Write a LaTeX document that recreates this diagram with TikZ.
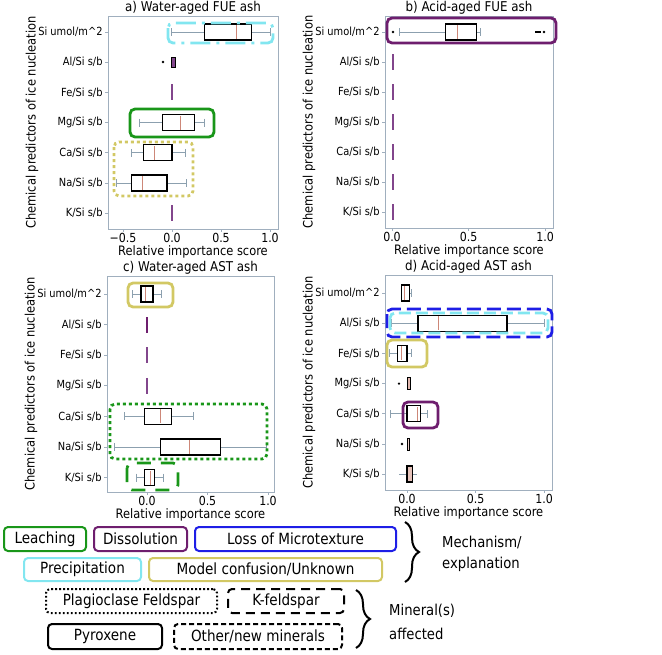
\documentclass[tikz,border=0pt]{standalone}
\usepackage{fontspec}
\setmainfont{DejaVu Sans}[FakeStretch=0.88]
\usetikzlibrary{decorations.pathreplacing}
\definecolor{hgreen}{RGB}{25,150,25}
\definecolor{hpurple}{RGB}{110,30,110}
\definecolor{hblue}{RGB}{30,30,230}
\definecolor{hcyan}{RGB}{130,230,240}
\definecolor{hyellow}{RGB}{210,200,100}
\definecolor{axgray}{RGB}{160,175,190}
\definecolor{whgray}{RGB}{140,160,175}
\definecolor{medc}{RGB}{205,135,120}
\definecolor{zpurple}{RGB}{130,70,140}
\tikzset{
  frame/.style={draw=axgray, line width=0.9pt},
  whisk/.style={draw=whgray, line width=0.9pt},
  boxs/.style={draw=black, line width=1.3pt},
  medl/.style={draw=medc, line width=1pt},
  zl/.style={draw=zpurple, line width=1.6pt},
  hl/.style={line width=2.8pt, rounded corners=5pt},
  ylab/.style={font=\fontsize{11.2}{12}\selectfont, anchor=east, inner sep=2pt},
  tickl/.style={font=\fontsize{12.5}{13}\selectfont},
  ttl/.style={font=\fontsize{13.5}{14}\selectfont, anchor=south, inner sep=1pt},
  xlab/.style={font=\fontsize{13}{14}\selectfont},
  leg/.style={draw, line width=2pt, rounded corners=4pt, inner sep=0pt, font=\fontsize{15.4}{18}\selectfont},
  brc/.style={decorate, decoration={brace, amplitude=14pt}, line width=2pt},
}
% boxplot: x0, s, y, wl, q1, med, q3, wh
\newcommand\bxp[8]{%
  \draw[whisk] ({#1+#2*(#4)},#3) -- ({#1+#2*(#5)},#3) ({#1+#2*(#7)},#3) -- ({#1+#2*(#8)},#3);
  \draw[whisk] ({#1+#2*(#4)},{#3-4}) -- ({#1+#2*(#4)},{#3+4}) ({#1+#2*(#8)},{#3-4}) -- ({#1+#2*(#8)},{#3+4});
  \draw[boxs] ({#1+#2*(#5)},{#3-8}) rectangle ({#1+#2*(#7)},{#3+8});
  \draw[medl] ({#1+#2*(#6)},{#3-7}) -- ({#1+#2*(#6)},{#3+7});
}
\newcommand\zlin[2]{\draw[zl] (#1,{#2-8}) -- (#1,{#2+8});}
\newcommand\outl[2]{\fill (#1,#2) circle (1.3);}
% panel: L, T, R, B, y0, dy, title
\newcommand\pnl[7]{%
  \draw[frame] (#1,#2) rectangle (#3,#4);
  \foreach \lab [count=\i from 0] in {{Si umol/m\textasciicircum 2},{Al/Si s/b},{Fe/Si s/b},{Mg/Si s/b},{Ca/Si s/b},{Na/Si s/b},{K/Si s/b}}{
    \draw[frame] (#1,{#5+#6*\i}) -- ++(-3,0) node[ylab] {\lab};
  }
  \node[ttl] at ({(#1+#3)/2},#2) {#7};
  \node[xlab] at ({(#1+#3)/2},{#4+23}) {Relative importance score};
  \node[xlab, rotate=90] at ({#1-76},{(#2+#4)/2}) {Chemical predictors of ice nucleation};
}
\newcommand\xtk[3]{\draw[frame] (#1,#2) -- ++(0,3) node[tickl, anchor=north, inner sep=0.5pt] {#3};}
\begin{document}
\begin{tikzpicture}[x=1pt,y=-1pt]
\useasboundingbox (0,0) rectangle (662,654);
% ---------- panel a ----------
\pnl{108}{16}{278}{229}{32}{30.2}{a) Water-aged FUE ash}
\xtk{123}{229}{−0.5}\xtk{172}{229}{0.0}\xtk{221}{229}{0.5}\xtk{270}{229}{1.0}
\bxp{172}{98}{32}{-0.01}{0.33}{0.66}{0.81}{1.0}
\draw[boxs, fill=zpurple, line width=0.8pt] (171,57) rectangle (175,67);
\outl{163}{62}
\zlin{172}{92.4}
\bxp{172}{98}{122.6}{-0.33}{-0.1}{0.09}{0.23}{0.33}
\bxp{172}{98}{152.8}{-0.41}{-0.29}{-0.18}{0.0}{0.14}
\bxp{172}{98}{183}{-0.57}{-0.41}{-0.30}{-0.05}{0.15}
\zlin{172}{213.2}
\draw[hl, hcyan, dash pattern=on 20pt off 6pt on 3pt off 6pt] (168,23) rectangle (273,43);
\draw[hl, hgreen] (130,109) rectangle (214,137);
\draw[hl, hyellow, dash pattern=on 3pt off 3pt] (114,142) rectangle (193,196);
% ---------- panel b ----------
\pnl{385}{16}{553}{228}{32}{30}{b) Acid-aged FUE ash}
\xtk{392}{228}{0.0}\xtk{468.5}{228}{0.5}\xtk{545}{228}{1.0}
\bxp{392}{153}{32}{0.05}{0.35}{0.43}{0.55}{0.58}
\outl{393}{32}
\draw[line width=2.2pt] (535,32) -- (541,32);
\outl{544}{32}
\foreach \yy in {62,92,122,152,182,212}{\zlin{393}{\yy}}
\draw[hl, hpurple] (387,18) rectangle (556,43);
% ---------- panel c ----------
\pnl{107}{276}{274}{492}{294}{30.6}{c) Water-aged AST ash}
\xtk{147}{492}{0.0}\xtk{207.5}{492}{0.5}\xtk{268}{492}{1.0}
\bxp{147}{121}{294}{-0.12}{-0.05}{-0.01}{0.05}{0.12}
\draw[draw=hpurple, line width=2.4pt] (147,317) -- (147,333);
\zlin{147}{355.2}
\zlin{147}{385.8}
\bxp{147}{121}{416.4}{-0.19}{-0.02}{0.11}{0.20}{0.38}
\bxp{147}{121}{447}{-0.27}{0.11}{0.35}{0.61}{0.99}
\bxp{147}{121}{477.6}{-0.09}{-0.02}{0.03}{0.06}{0.14}
\draw[hl, hyellow] (128,283) rectangle (173,307);
\draw[hl, hgreen, dash pattern=on 3pt off 3pt] (110,404) rectangle (267,459);
\draw[hl, hgreen, dash pattern=on 14pt off 10pt] (127,463) rectangle (178,490);
% ---------- panel d ----------
\pnl{385}{275}{552}{490}{293}{30.2}{d) Acid-aged AST ash}
\xtk{407}{490}{0.0}\xtk{475.5}{490}{0.5}\xtk{544}{490}{1.0}
\bxp{407}{137}{293}{-0.04}{-0.04}{-0.02}{0.02}{0.03}
\bxp{407}{137}{323.2}{-0.11}{0.08}{0.23}{0.73}{1.0}
\bxp{407}{137}{353.4}{-0.13}{-0.07}{-0.04}{0.0}{0.03}
\draw[boxs, fill=medc!60, line width=1pt] (407,377) rectangle (410,389);
\outl{399}{383.6}
\bxp{407}{137}{413.8}{-0.12}{0.0}{0.08}{0.10}{0.15}
\draw[boxs, fill=medc!40, line width=1pt] (407,438) rectangle (409,450);
\outl{402}{444}
\draw[whisk] (399,474.2) -- (417,474.2);
\draw[boxs, fill=medc!50, line width=1.1pt] (407,466) rectangle (412.5,482);
\draw[hl, hblue, dash pattern=on 14pt off 6pt] (387,309) rectangle (552,337);
\draw[hl, hcyan, dash pattern=on 12pt off 5pt] (390,313) rectangle (548,333);
\draw[hl, hyellow] (387,340) rectangle (427,367);
\draw[hl, hpurple] (403,402) rectangle (438,428);
% ---------- legend ----------
\node[leg, draw=hgreen, minimum width=82pt, minimum height=24pt] (leach) at (45,539) {Leaching};
\node[leg, draw=hpurple, minimum width=93pt, minimum height=24pt] (diss) at (140.5,539) {Dissolution};
\node[leg, draw=hblue, minimum width=201pt, minimum height=24pt] (loss) at (295.5,539) {Loss of Microtexture};
\node[leg, draw=hcyan, minimum width=117pt, minimum height=23pt] (prec) at (82.5,569.5) {Precipitation};
\node[leg, draw=hyellow, minimum width=233pt, minimum height=23pt] (model) at (265.5,569.5) {Model confusion/Unknown};
\node[leg, dash pattern=on 1.8pt off 2.2pt, minimum width=171pt, minimum height=24pt] (plag) at (131.5,601) {Plagioclase Feldspar};
\node[leg, dash pattern=on 9pt off 6pt, minimum width=116pt, minimum height=24pt] (kfeld) at (286,601) {K-feldspar};
\node[leg, minimum width=114pt, minimum height=25pt] (pyro) at (105,636.5) {Pyroxene};
\node[leg, dash pattern=on 5pt off 3pt, minimum width=168pt, minimum height=25pt] (other) at (258,636.5) {Other/new minerals};
\coordinate (b1t) at (405,522);
\coordinate (b1b) at (405,582);
\coordinate (b2t) at (356,590);
\coordinate (b2b) at (356,648);
\draw[brc] (b1t) -- (b1b);
\draw[brc] (b2t) -- (b2b);
\node[font=\fontsize{15}{21}\selectfont, align=left, anchor=west, inner sep=0pt] (mech) at (442,554) {Mechanism/\\explanation};
\node[font=\fontsize{15}{24}\selectfont, align=left, anchor=west, inner sep=0pt] (mine) at (389,622) {Mineral(s)\\affected};
\end{tikzpicture}
\end{document}
